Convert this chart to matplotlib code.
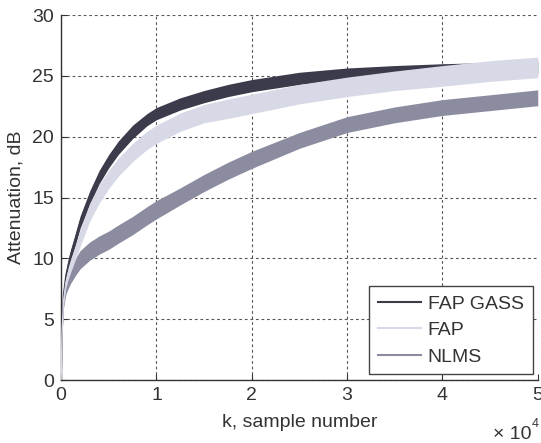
import matplotlib
matplotlib.use("Agg")
import matplotlib.pyplot as plt
from matplotlib.ticker import FuncFormatter
import numpy as np

plt.rcParams['font.family'] = ['Liberation Sans', 'DejaVu Sans']

# sample number (samples)
k = [0, 100, 250, 500, 750, 1000, 1500, 2000, 3000, 4000, 5000, 6000, 7500,
     9000, 10000, 12500, 15000, 17500, 20000, 25000, 30000, 35000, 40000,
     45000, 50000]
# attenuation centre values (dB)
fap_gass = [0, 4.5, 7.0, 8.6, 9.5, 10.3, 11.6, 13.0, 15.0, 16.7, 18.0, 19.1,
            20.4, 21.4, 21.9, 22.7, 23.3, 23.8, 24.2, 24.8, 25.2, 25.4, 25.5,
            25.6, 25.7]
fap = [0, 4.0, 6.5, 8.0, 8.8, 9.4, 10.5, 11.7, 13.8, 15.3, 16.5, 17.5, 18.7,
       19.7, 20.2, 21.2, 21.9, 22.3, 22.7, 23.5, 24.1, 24.6, 25.0, 25.4, 25.7]
nlms = [0, 4.0, 6.3, 7.5, 8.1, 8.6, 9.3, 9.9, 10.6, 11.1, 11.5, 12.0, 12.7,
        13.5, 14.0, 15.1, 16.2, 17.2, 18.1, 19.7, 21.0, 21.8, 22.4, 22.8, 23.2]
# spread of the noisy curves (dB, peak-to-peak)
fap_gass_spread = [0, 0.3, 0.5, 0.7, 0.8, 0.9, 1.0, 1.0, 1.1, 1.1, 1.1, 1.1,
                   1.1, 1.0, 1.0, 1.0, 1.0, 1.0, 1.0, 1.0, 0.9, 0.9, 1.0,
                   1.0, 1.0]
fap_spread = [0, 0.4, 0.6, 0.8, 1.0, 1.1, 1.2, 1.4, 1.5, 1.5, 1.5, 1.5, 1.5,
              1.5, 1.5, 1.5, 1.5, 1.6, 1.6, 1.6, 1.6, 1.6, 1.7, 1.7, 1.7]
nlms_spread = [0, 0.5, 0.7, 0.9, 1.1, 1.3, 1.4, 1.5, 1.5, 1.5, 1.5, 1.5, 1.5,
               1.5, 1.5, 1.4, 1.4, 1.4, 1.4, 1.3, 1.3, 1.3, 1.3, 1.3, 1.3]

labels = ['FAP GASS', 'FAP', 'NLMS']
colors = ['#3b3b4b', '#d8d9e6', '#8c8ca0']
xtick_vals = [0, 10000, 20000, 30000, 40000, 50000]
ytick_vals = [0, 5, 10, 15, 20, 25, 30]

fig = plt.figure(figsize=(5.41, 4.43), dpi=100)
ax = fig.add_axes([0.113, 0.142, 0.881, 0.824])

series = [(fap_gass, fap_gass_spread), (fap, fap_spread), (nlms, nlms_spread)]
ks = np.array(k, dtype=float)
for (vals, spr), lab, col, z in zip(series, labels, colors, [3, 4, 2]):
    v = np.array(vals); s = np.array(spr)
    ax.fill_between(ks, v - s / 2, v + s / 2, color=col, lw=0, zorder=z)
    ax.plot(ks, v, color=col, lw=1.0, label=lab, zorder=z)

ax.set_xlim(0, 50000)
ax.set_ylim(0, 30)
ax.set_xticks(xtick_vals)
ax.set_yticks(ytick_vals)
ax.xaxis.set_major_formatter(FuncFormatter(lambda x, p: f"{x / 1e4:g}"))

ax.grid(True, color='#555555', linestyle=(0, (2.5, 2.5)), linewidth=0.8)
ax.set_axisbelow(True)
for sp in ['top', 'right']:
    ax.spines[sp].set_visible(False)
for sp in ['left', 'bottom']:
    ax.spines[sp].set_color('#333333')
    ax.spines[sp].set_linewidth(1.0)

ax.tick_params(direction='in', length=4, labelsize=14, colors='#333333',
               labelcolor='#333333', pad=5)

ax.set_xlabel('k, sample number', fontsize=14, color='#333333', labelpad=7)
ax.set_ylabel('Attenuation, dB', fontsize=14, color='#333333', labelpad=6)

fig.text(0.911, 0.009, '× 10', fontsize=14, color='#333333', ha='left',
         va='baseline')
fig.text(0.982, 0.036, '4', fontsize=9, color='#333333', ha='left',
         va='baseline')

leg = ax.legend(loc='lower right', bbox_to_anchor=(0.989, 0.016), fontsize=14,
                frameon=True, fancybox=False, handlelength=2.2,
                borderpad=0.45, labelspacing=0.45, handletextpad=0.35,
                borderaxespad=0)
leg.get_frame().set_edgecolor('#444444')
leg.get_frame().set_linewidth(1.0)
leg.get_frame().set_alpha(1)
for t in leg.get_texts():
    t.set_color('#333333')
for h in leg.get_lines():
    h.set_linewidth(1.5)

fig.savefig('out.png', dpi=100)
